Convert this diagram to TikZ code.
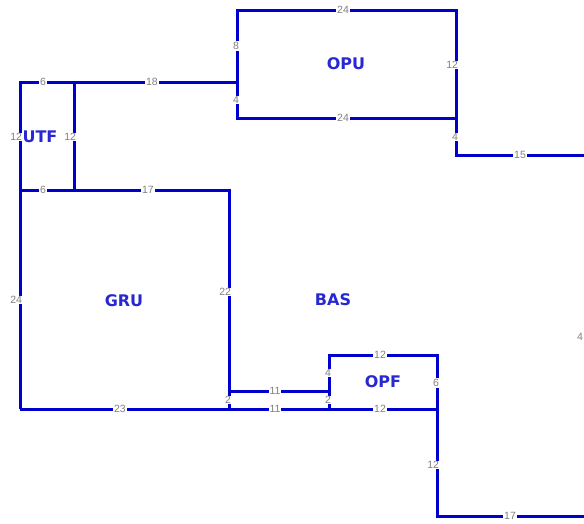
\documentclass[tikz,border=0pt]{standalone}
\usepackage{fontspec}
\setmainfont{Liberation Sans}
\newfontfamily\roomfont{DejaVu Sans}
\usepackage{tikz}

\definecolor{wallblue}{RGB}{0,0,205}
\definecolor{roomblue}{RGB}{40,40,210}
\definecolor{dimgray}{RGB}{128,128,128}

\tikzset{
  wall/.style={draw=wallblue, line width=3pt},
  dimh/.style={fill=white, text=dimgray, inner sep=0.8pt, font=\fontsize{10.5}{10.5}\selectfont},
  dimv/.style={dimh, anchor=east},
  room/.style={text=roomblue, font=\roomfont\bfseries\fontsize{16}{16}\selectfont}
}

\begin{document}
\begin{tikzpicture}[x=1pt, y=-1pt]

\useasboundingbox (0,0) rectangle (584,523);

% walls
\draw[wall] (20,409)--(20,82)--(237,82);
\draw[wall] (74,82)--(74,190);
\draw[wall] (20,190)--(229,190)--(229,409);
\draw[wall] (20,409)--(437,409);
\draw[wall] (229,391)--(329,391);
\draw[wall] (329,409)--(329,355)--(437,355)--(437,516)--(590,516);

\draw[wall] (237,10) rectangle (456,118);
\draw[wall] (456,118)--(456,155)--(590,155);

% rooms
\node[room] (utf) at (40,137) {UTF};
\node[room] (gru) at (124,301) {GRU};
\node[room] (bas) at (333,300) {BAS};
\node[room] (opu) at (346,64) {OPU};
\node[room] (opf) at (383,382) {OPF};

% dimensions, horizontal
\node[dimh] (d1) at (43,82) {6};
\node[dimh] (d2) at (152,82) {18};
\node[dimh] (d3) at (43,190) {6};
\node[dimh] (d4) at (148,190) {17};
\node[dimh] (d5) at (120,409) {23};
\node[dimh] (d6) at (275,391) {11};
\node[dimh] (d7) at (275,409) {11};
\node[dimh] (d8) at (380,409) {12};
\node[dimh] (d9) at (380,355) {12};
\node[dimh] (d10) at (343,10) {24};
\node[dimh] (d11) at (343,118) {24};
\node[dimh] (d12) at (520,155) {15};
\node[dimh] (d13) at (510,516) {17};

% dimensions, vertical
\node[dimv] (v1) at (23,137) {12};
\node[dimv] (v2) at (77,137) {12};
\node[dimv] (v3) at (23,300) {24};
\node[dimv] (v4) at (232,292) {22};
\node[dimv] (v5) at (232,400) {2};
\node[dimv] (v6) at (240,46) {8};
\node[dimv] (v7) at (240,100) {4};
\node[dimv] (v8) at (459,65) {12};
\node[dimv] (v9) at (459,137) {4};
\node[dimv] (v10) at (332,373) {4};
\node[dimv] (v11) at (332,400) {2};
\node[dimv] (v12) at (440,383) {6};
\node[dimv] (v13) at (440,465) {12};
\node[dimv] (v14) at (584,337) {4};

\end{tikzpicture}
\end{document}
